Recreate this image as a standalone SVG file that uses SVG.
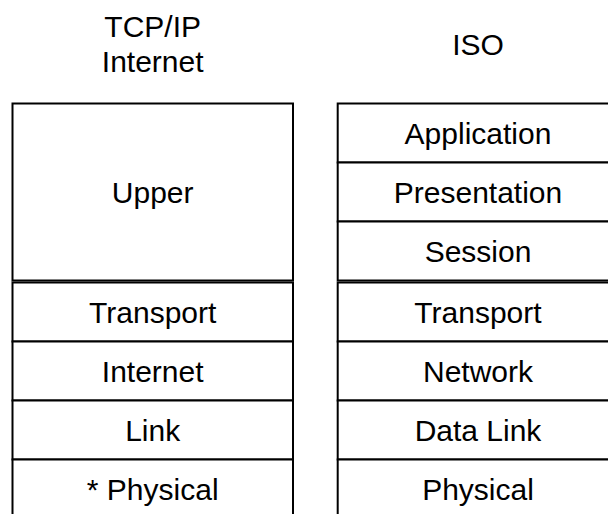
<svg xmlns="http://www.w3.org/2000/svg" width="608" height="514" viewBox="0 0 608 514">
<style>
  .box { fill: #ffffff; stroke: #000000; stroke-width: 2; }
  .t { font-family: "Liberation Sans", Arial, Helvetica, sans-serif; font-size: 30px; fill: #000000; text-anchor: middle; }
</style>
<rect x="0" y="0" width="608" height="514" fill="#ffffff"/>
<g id="headings">
  <text class="t" x="152.7" y="37">TCP/IP</text>
  <text class="t" x="152.7" y="72">Internet</text>
  <text class="t" x="478" y="55">ISO</text>
</g>
<g id="tcpip">
  <g id="tcp-upper"><rect class="box" x="12.5" y="103.5" width="280.5" height="177"/><text class="t" x="152.7" y="202.7">Upper</text></g>
  <g id="tcp-transport"><rect class="box" x="12.5" y="282.5" width="280.5" height="59"/><text class="t" x="152.7" y="322.7">Transport</text></g>
  <g id="tcp-internet"><rect class="box" x="12.5" y="341.5" width="280.5" height="59"/><text class="t" x="152.7" y="381.7">Internet</text></g>
  <g id="tcp-link"><rect class="box" x="12.5" y="400.5" width="280.5" height="59"/><text class="t" x="152.7" y="440.7">Link</text></g>
  <g id="tcp-physical"><rect class="box" x="12.5" y="459.5" width="280.5" height="59"/><text class="t" x="152.7" y="499.7">* Physical</text></g>
</g>
<g id="iso">
  <g id="iso-application"><rect class="box" x="337.7" y="103.5" width="280.5" height="59"/><text class="t" x="478" y="143.7">Application</text></g>
  <g id="iso-presentation"><rect class="box" x="337.7" y="162.5" width="280.5" height="59"/><text class="t" x="478" y="202.7">Presentation</text></g>
  <g id="iso-session"><rect class="box" x="337.7" y="221.5" width="280.5" height="59"/><text class="t" x="478" y="261.7">Session</text></g>
  <g id="iso-transport"><rect class="box" x="337.7" y="282.5" width="280.5" height="59"/><text class="t" x="478" y="322.7">Transport</text></g>
  <g id="iso-network"><rect class="box" x="337.7" y="341.5" width="280.5" height="59"/><text class="t" x="478" y="381.7">Network</text></g>
  <g id="iso-datalink"><rect class="box" x="337.7" y="400.5" width="280.5" height="59"/><text class="t" x="478" y="440.7">Data Link</text></g>
  <g id="iso-physical"><rect class="box" x="337.7" y="459.5" width="280.5" height="59"/><text class="t" x="478" y="499.7">Physical</text></g>
</g>
<g id="connectors"></g>
</svg>
